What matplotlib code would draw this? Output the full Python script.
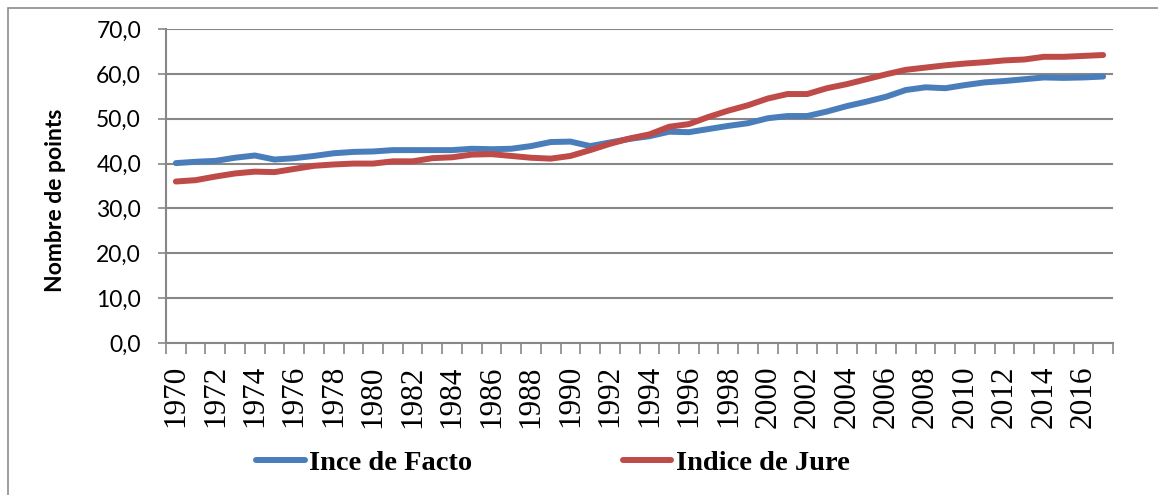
import matplotlib
matplotlib.use("Agg")
import matplotlib.pyplot as plt
from matplotlib.patches import Rectangle
import numpy as np

# data
years = list(range(1970, 2018))
de_facto = [40.1, 40.4, 40.6, 41.3, 41.8, 40.9, 41.2, 41.7, 42.3, 42.6,
            42.7, 43.0, 43.0, 43.0, 43.0, 43.3, 43.2, 43.3, 43.9, 44.8,
            44.9, 43.9, 44.7, 45.5, 46.1, 47.1, 47.0, 47.7, 48.4, 49.0,
            50.1, 50.6, 50.6, 51.6, 52.8, 53.8, 54.9, 56.4, 57.0, 56.8,
            57.5, 58.1, 58.4, 58.8, 59.2, 59.1, 59.2, 59.4]
de_jure = [36.0, 36.3, 37.1, 37.8, 38.2, 38.1, 38.8, 39.5, 39.8, 40.0,
           40.0, 40.5, 40.5, 41.2, 41.4, 42.0, 42.1, 41.7, 41.3, 41.1,
           41.7, 43.0, 44.4, 45.6, 46.5, 48.2, 48.8, 50.4, 51.8, 53.0,
           54.5, 55.5, 55.5, 56.8, 57.7, 58.8, 59.9, 60.9, 61.4, 61.9,
           62.3, 62.6, 63.0, 63.2, 63.8, 63.8, 64.0, 64.2]
labels = ["Ince de Facto", "Indice de Jure"]
colors = ["#4A7EBB", "#BE4B48"]

grey = "#878787"
W, H = 1158, 495
fig = plt.figure(figsize=(W / 100, H / 100), dpi=100)
ax = fig.add_axes([166 / W, 1 - 343 / H, (1113 - 166) / W, (343 - 29) / H])

# outer chart border (cut off at right and bottom like the reference)
fig.patches.append(Rectangle((8 / W, -0.05), 1.1, 1 - 8 / H + 0.05,
                             transform=fig.transFigure, fill=False,
                             edgecolor="#8c8c8c", lw=1.2))

x = np.arange(len(years))
for vals, lab, c in zip([de_facto, de_jure], labels, colors):
    ax.plot(x, vals, color=c, lw=4.3, label=lab, solid_capstyle="round")

ax.set_xlim(-0.5, len(years) - 0.5)
ax.set_ylim(0, 70)
ax.set_yticks(np.arange(0, 71, 10))
ax.set_yticklabels([f"{v:.1f}".replace(".", ",") for v in range(0, 71, 10)],
                   fontfamily="Lato", fontsize=16.5)
ax.grid(axis="y", color=grey, lw=1.5)
ax.set_axisbelow(True)

ax.set_xticks(x[::2])
ax.set_xticklabels([str(y) for y in years[::2]], rotation=90,
                   fontfamily="Liberation Serif", fontsize=22.5)
ax.set_xticks(np.arange(-0.5, len(years)), minor=True)
ax.tick_params(axis="x", which="major", length=0, pad=16)
ax.tick_params(axis="x", which="minor", length=8, color=grey, width=1.2)
ax.tick_params(axis="y", length=6, color=grey, width=1.2, pad=12)

for s in ["top", "right"]:
    ax.spines[s].set_visible(False)
for s in ["left", "bottom"]:
    ax.spines[s].set_color(grey)
    ax.spines[s].set_linewidth(1.5)

ax.set_ylabel("Nombre de points", fontfamily="Lato", fontweight="bold",
              fontsize=16.5, va="center")
ax.yaxis.set_label_coords(-0.117, 0.455)

fig.legend(loc="center", bbox_to_anchor=(553 / W, 1 - 463 / H), ncol=2,
           frameon=False, handlelength=1.7, handletextpad=0.15,
           columnspacing=5.3,
           prop={"family": "Liberation Serif", "weight": "bold", "size": 20.5})

fig.savefig("out.png", dpi=100)
